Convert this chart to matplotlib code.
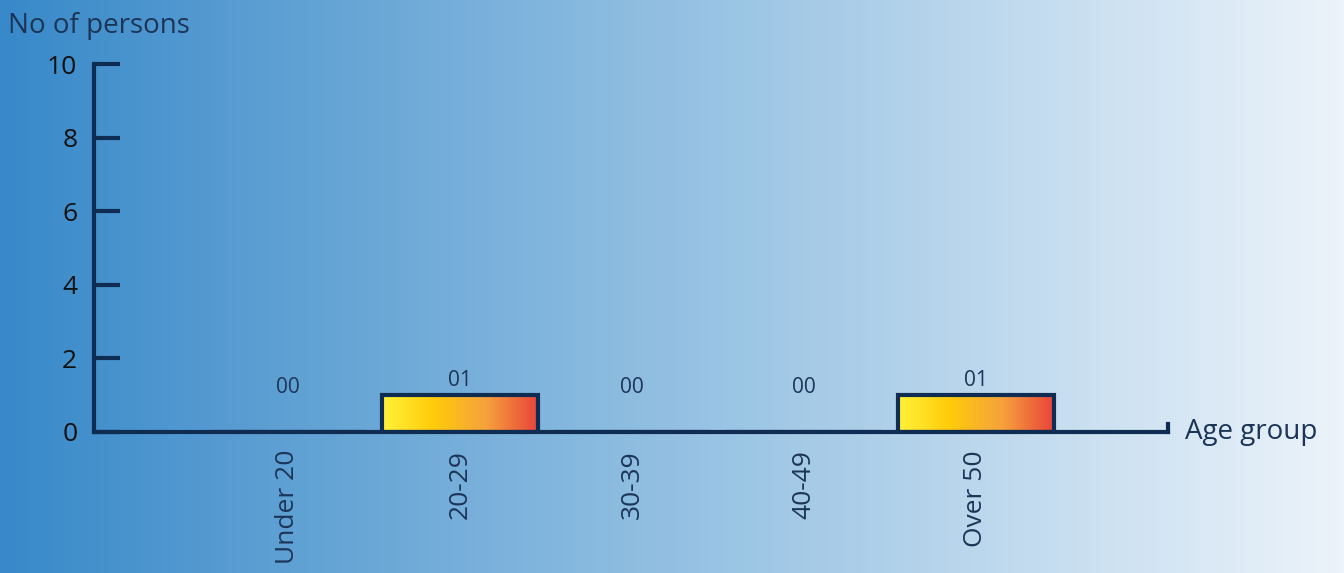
import numpy as np
import matplotlib.pyplot as plt
from matplotlib.colors import LinearSegmentedColormap

categories = ['Under 20', '20-29', '30-39', '40-49', 'Over 50']
persons = [0, 1, 0, 0, 1]
value_labels = ['00', '01', '00', '00', '01']

navy = '#0f2d52'
text_navy = '#1c3557'
plt.rcParams['font.family'] = ['Open Sans', 'DejaVu Sans']

fig = plt.figure(figsize=(13.44, 5.73), dpi=100)

# background gradient over the whole figure
bg = fig.add_axes([0, 0, 1, 1], zorder=0)
bg_cmap = LinearSegmentedColormap.from_list('bg', ['#3889c9', '#93c0e2', '#ecf3fa'])
bg.imshow(np.linspace(0, 1, 256).reshape(1, -1), cmap=bg_cmap, aspect='auto', extent=[0, 1, 0, 1])
bg.axis('off')

ax = fig.add_axes([0.0699, 0.2461, 0.7991, 0.6422], zorder=1)
ax.patch.set_alpha(0)

x = np.arange(len(categories))
bar_cmap = LinearSegmentedColormap.from_list('bar', ['#fff23a', '#ffcb0a', '#f6a23c', '#e9443a'])
bars = ax.bar(x, persons, width=0.905, facecolor='none', edgecolor=navy, linewidth=3, zorder=3)
for b in bars:
    if b.get_height() == 0:
        continue
    x0, w, h = b.get_x(), b.get_width(), b.get_height()
    im = ax.imshow(np.linspace(0, 1, 256).reshape(1, -1), cmap=bar_cmap, aspect='auto',
                   extent=[x0, x0 + w, 0, h], zorder=2)
    im.set_clip_path(b)

for xi, v, lab in zip(x, persons, value_labels):
    ax.text(xi, v * 0.2 + 1.2, lab, ha='center', va='center', fontsize=15, color=text_navy)

ax.set_xlim(-1.128, 5.116)
ax.set_ylim(0, 10)
ax.set_yticks([0, 2, 4, 6, 8, 10])
ax.set_xticks(x)
ax.set_xticklabels(categories, rotation=90, fontsize=19, color=text_navy, va='top')
ax.tick_params(axis='x', length=0, pad=13)
ax.tick_params(axis='y', direction='in', length=19, width=3, color=navy, pad=12,
               labelsize=19, labelcolor='#111111')
for s in ['top', 'right']:
    ax.spines[s].set_visible(False)
for s in ['left', 'bottom']:
    ax.spines[s].set_color(navy)
    ax.spines[s].set_linewidth(3)
ax.plot([1, 1], [0, 0.022], transform=ax.transAxes, color=navy, lw=3, clip_on=False)

fig.text(0.006, 0.955, 'No of persons', fontsize=20, color=text_navy, va='center', ha='left')
ax.text(1.016, 0, 'Age group', transform=ax.transAxes, fontsize=20, color=text_navy,
        va='center', ha='left')

fig.savefig('out.png', dpi=100)
